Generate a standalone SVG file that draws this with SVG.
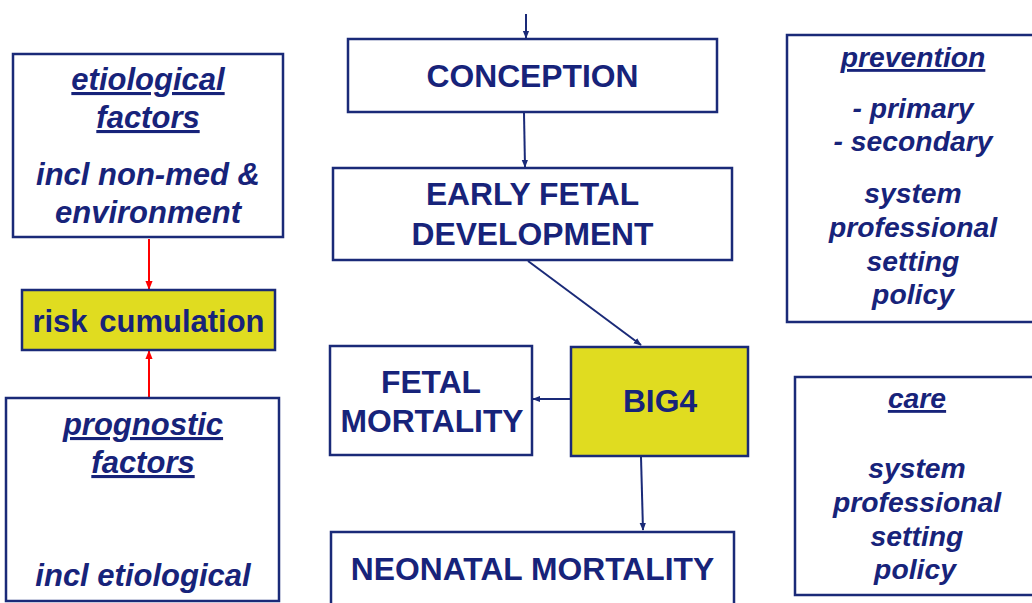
<svg xmlns="http://www.w3.org/2000/svg" width="1032" height="603" viewBox="0 0 1032 603">
<style>
.box{fill:#ffffff;stroke:#1a2a78;stroke-width:2.5}
.hl{fill:#e0dc20;stroke:#1a2a78;stroke-width:2.5}
.t{font-family:"Liberation Sans",Arial,sans-serif;font-weight:bold;fill:#17237a;text-anchor:middle}
.it{font-style:italic}
.u{text-decoration:underline}
.s30{font-size:31px}
.cap{font-size:31.8px}
.s28{font-size:28.3px}
.nav{stroke:#1a2a78;stroke-width:2;fill:none}
.red{stroke:#ff0000;stroke-width:2;fill:none}
</style>
<defs>
<marker id="an" viewBox="0 0 10 10" refX="9" refY="5" markerWidth="8" markerHeight="8" orient="auto" markerUnits="userSpaceOnUse">
<path d="M0,1 L10,5 L0,9 z" fill="#1a2a78"/>
</marker>
<marker id="ar" viewBox="0 0 10 10" refX="9" refY="5" markerWidth="9" markerHeight="9" orient="auto" markerUnits="userSpaceOnUse">
<path d="M0,1 L10,5 L0,9 z" fill="#ff0000"/>
</marker>
</defs>
<rect width="1032" height="603" fill="#ffffff"/>
<g id="connectors">
<line class="nav" x1="526" y1="14" x2="526" y2="38" marker-end="url(#an)"/>
<line class="nav" x1="524" y1="113" x2="525" y2="167" marker-end="url(#an)"/>
<line class="nav" x1="528" y1="261" x2="641" y2="345" marker-end="url(#an)"/>
<line class="nav" x1="571" y1="399" x2="533" y2="399" marker-end="url(#an)"/>
<line class="nav" x1="641" y1="457" x2="643" y2="530" marker-end="url(#an)"/>
<line class="red" x1="149" y1="239" x2="149" y2="289" marker-end="url(#ar)"/>
<line class="red" x1="149" y1="398" x2="149" y2="351" marker-end="url(#ar)"/>
</g>
<g id="etiological">
<rect class="box" x="13" y="54" width="270" height="183"/>
<text class="t it s30" x="148"><tspan class="u" x="148" y="90">etiological</tspan><tspan class="u" x="148" y="128">factors</tspan><tspan x="148" y="185">incl non-med &amp;</tspan><tspan x="148" y="223">environment</tspan></text>
</g>
<g id="risk">
<rect class="hl" x="22" y="290" width="253" height="60"/>
<text class="t s30" x="148.5" y="332" word-spacing="3">risk cumulation</text>
</g>
<g id="prognostic">
<rect class="box" x="6" y="398" width="273" height="203"/>
<text class="t it s30" x="143"><tspan class="u" x="143" y="435">prognostic</tspan><tspan class="u" x="143" y="473">factors</tspan><tspan x="143" y="586">incl etiological</tspan></text>
</g>
<g id="conception">
<rect class="box" x="348" y="39" width="369" height="73"/>
<text class="t cap" x="532.5" y="87">CONCEPTION</text>
</g>
<g id="early">
<rect class="box" x="333" y="168" width="399" height="92"/>
<text class="t cap" x="532.5"><tspan x="532.5" y="205">EARLY FETAL</tspan><tspan x="532.5" y="245">DEVELOPMENT</tspan></text>
</g>
<g id="fetal">
<rect class="box" x="330" y="346" width="202" height="109"/>
<text class="t cap" x="431"><tspan x="431" y="393">FETAL</tspan><tspan x="432" y="432">MORTALITY</tspan></text>
</g>
<g id="big4">
<rect class="hl" x="571" y="347" width="177" height="109"/>
<text class="t cap" x="660" y="412">BIG4</text>
</g>
<g id="neonatal">
<rect class="box" x="331" y="532" width="403" height="80"/>
<text class="t cap" x="532.5" y="580">NEONATAL MORTALITY</text>
</g>
<g id="prevention">
<rect class="box" x="787" y="35" width="260" height="287"/>
<text class="t it s28" x="913"><tspan class="u" x="913" y="67">prevention</tspan><tspan x="913" y="118">- primary</tspan><tspan x="913" y="151">- secondary</tspan><tspan x="913" y="203">system</tspan><tspan x="913" y="237">professional</tspan><tspan x="913" y="271">setting</tspan><tspan x="913" y="304">policy</tspan></text>
</g>
<g id="care">
<rect class="box" x="795" y="377" width="260" height="218"/>
<text class="t it s28" x="917"><tspan class="u" x="917" y="408">care</tspan><tspan x="917" y="478">system</tspan><tspan x="917" y="512">professional</tspan><tspan x="917" y="546">setting</tspan><tspan x="915" y="579">policy</tspan></text>
</g>
</svg>
